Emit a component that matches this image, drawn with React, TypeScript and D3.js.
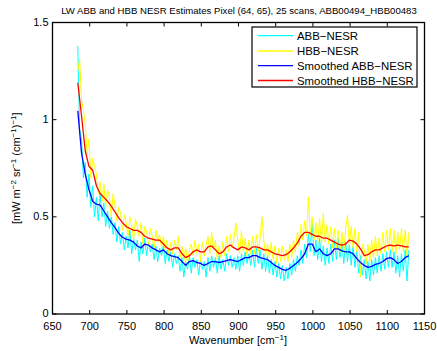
import React from "react";
import * as d3 from "d3";

const RAW_START = 684;
const RAW_STEP = 2.5;
const SMOOTH_START = 684;
const SMOOTH_STEP = 5;

const abbNesr = [
  1.38, 0.95, 0.9, 0.7, 0.78, 0.6, 0.72, 0.55, 0.66, 0.5, 0.6, 0.48, 0.62, 0.5, 0.57, 0.45, 0.53, 0.44, 0.5, 0.41,
  0.47, 0.37, 0.45, 0.36, 0.42, 0.33, 0.4, 0.34, 0.43, 0.31, 0.39, 0.33, 0.38, 0.27, 0.37, 0.31, 0.39, 0.3, 0.37, 0.32,
  0.36, 0.28, 0.35, 0.27, 0.34, 0.3, 0.35, 0.26, 0.33, 0.27, 0.32, 0.24, 0.31, 0.26, 0.3, 0.22, 0.29, 0.19, 0.27, 0.23,
  0.3, 0.21, 0.29, 0.24, 0.28, 0.2, 0.28, 0.23, 0.27, 0.19, 0.29, 0.22, 0.3, 0.24, 0.29, 0.21, 0.3, 0.23, 0.28, 0.22,
  0.31, 0.25, 0.3, 0.24, 0.29, 0.23, 0.3, 0.22, 0.31, 0.25, 0.32, 0.26, 0.31, 0.25, 0.33, 0.24, 0.34, 0.26, 0.33, 0.23,
  0.31, 0.22, 0.3, 0.21, 0.28, 0.2, 0.27, 0.19, 0.26, 0.18, 0.25, 0.17, 0.24, 0.18, 0.26, 0.2, 0.28, 0.22, 0.3, 0.25,
  0.33, 0.26, 0.36, 0.29, 0.41, 0.32, 0.48, 0.3, 0.38, 0.28, 0.39, 0.27, 0.35, 0.25, 0.34, 0.26, 0.36, 0.27, 0.38, 0.28,
  0.39, 0.29, 0.37, 0.26, 0.37, 0.27, 0.36, 0.25, 0.35, 0.24, 0.33, 0.21, 0.3, 0.2, 0.28, 0.18, 0.27, 0.17, 0.28, 0.2,
  0.29, 0.21, 0.3, 0.22, 0.31, 0.23, 0.32, 0.24, 0.33, 0.24, 0.32, 0.21, 0.3, 0.19, 0.31, 0.22, 0.33, 0.17, 0.33,
];

const hbbNesr = [
  1.25, 1.31, 1.1, 1.05, 0.98, 0.82, 0.9, 0.7, 0.8, 0.76, 0.72, 0.62, 0.68, 0.58, 0.67, 0.55, 0.64, 0.6, 0.5, 0.62,
  0.56, 0.48, 0.55, 0.52, 0.43, 0.51, 0.47, 0.4, 0.5, 0.46, 0.38, 0.49, 0.45, 0.4, 0.47, 0.36, 0.45, 0.42, 0.35, 0.44,
  0.4, 0.33, 0.43, 0.37, 0.41, 0.34, 0.4, 0.33, 0.38, 0.3, 0.37, 0.31, 0.38, 0.33, 0.4, 0.29, 0.35, 0.27, 0.34, 0.26,
  0.33, 0.36, 0.3, 0.38, 0.31, 0.36, 0.27, 0.37, 0.3, 0.36, 0.4, 0.31, 0.42, 0.33, 0.38, 0.28, 0.35, 0.29, 0.37, 0.3,
  0.4, 0.32, 0.41, 0.34, 0.39, 0.47, 0.38, 0.31, 0.43, 0.32, 0.39, 0.3, 0.38, 0.31, 0.4, 0.31, 0.41, 0.32, 0.39, 0.5,
  0.38, 0.3, 0.36, 0.29, 0.37, 0.28, 0.35, 0.26, 0.34, 0.27, 0.35, 0.28, 0.33, 0.27, 0.36, 0.29, 0.38, 0.32, 0.42, 0.35,
  0.46, 0.38, 0.48, 0.4, 0.6, 0.4, 0.5, 0.38, 0.47, 0.37, 0.49, 0.36, 0.52, 0.37, 0.46, 0.36, 0.45, 0.34, 0.44, 0.33,
  0.43, 0.32, 0.42, 0.31, 0.44, 0.51, 0.35, 0.45, 0.34, 0.44, 0.32, 0.42, 0.19, 0.36, 0.33, 0.26, 0.36, 0.27, 0.38, 0.29,
  0.4, 0.3, 0.39, 0.31, 0.42, 0.32, 0.43, 0.33, 0.44, 0.32, 0.43, 0.31, 0.42, 0.33, 0.44, 0.32, 0.43, 0.3, 0.42,
];

const smoothedAbb = [
  1.045, 0.83, 0.72, 0.64, 0.58, 0.565, 0.56, 0.53, 0.5, 0.47, 0.445, 0.415, 0.395, 0.385, 0.38, 0.37, 0.35, 0.34,
  0.36, 0.355, 0.34, 0.33, 0.32, 0.33, 0.31, 0.3, 0.295, 0.29, 0.27, 0.25, 0.27, 0.275, 0.265, 0.26, 0.25, 0.26,
  0.27, 0.27, 0.265, 0.27, 0.275, 0.28, 0.275, 0.27, 0.28, 0.29, 0.29, 0.3, 0.3, 0.29, 0.285, 0.28, 0.265, 0.25,
  0.24, 0.23, 0.225, 0.235, 0.25, 0.265, 0.285, 0.31, 0.36, 0.36, 0.32, 0.335, 0.31, 0.3, 0.31, 0.335, 0.335, 0.325,
  0.32, 0.32, 0.31, 0.285, 0.265, 0.25, 0.24, 0.245, 0.255, 0.26, 0.27, 0.285, 0.29, 0.28, 0.26, 0.27, 0.29, 0.3,
];

const smoothedHbb = [
  1.19, 1.02, 0.84, 0.76, 0.74, 0.66, 0.62, 0.6, 0.58, 0.555, 0.525, 0.495, 0.47, 0.45, 0.44, 0.43, 0.43, 0.42,
  0.4, 0.39, 0.385, 0.38, 0.38, 0.36, 0.34, 0.33, 0.34, 0.34, 0.31, 0.29, 0.3, 0.32, 0.33, 0.32, 0.32, 0.345,
  0.35, 0.33, 0.31, 0.32, 0.345, 0.355, 0.34, 0.33, 0.345, 0.34, 0.33, 0.345, 0.345, 0.34, 0.33, 0.33, 0.32, 0.31,
  0.305, 0.3, 0.305, 0.32, 0.34, 0.365, 0.4, 0.42, 0.42, 0.41, 0.4, 0.4, 0.39, 0.39, 0.38, 0.37, 0.36, 0.355,
  0.36, 0.38, 0.375, 0.36, 0.335, 0.3, 0.305, 0.32, 0.33, 0.33, 0.34, 0.35, 0.355, 0.35, 0.355, 0.35, 0.345, 0.345,
];

const xTicks = [650, 700, 750, 800, 850, 900, 950, 1000, 1050, 1100, 1150];
const yTicks = [0, 0.5, 1, 1.5];
const seriesNames = ["ABB\u2212NESR", "HBB\u2212NESR", "Smoothed ABB\u2212NESR", "Smoothed HBB\u2212NESR"];
const seriesColors = ["#00ffff", "#ffff00", "#0000ff", "#ff0000"];

const W = 437;
const H = 351;
const M = { left: 52.5, right: 424.5, top: 22.5, bottom: 314 };
const FONT = "'Liberation Sans', Arial, Helvetica, sans-serif";

export default function App() {
  const x = d3.scaleLinear().domain([650, 1150]).range([M.left, M.right]);
  const y = d3.scaleLinear().domain([0, 1.5]).range([M.bottom, M.top]);

  const toPts = (arr: number[], start: number, step: number) =>
    arr.map((v, i) => [start + i * step, v] as [number, number]);

  const line = d3
    .line<[number, number]>()
    .x((d) => x(d[0]))
    .y((d) => y(d[1]));

  const series = [
    { data: toPts(abbNesr, RAW_START, RAW_STEP), w: 1 },
    { data: toPts(hbbNesr, RAW_START, RAW_STEP), w: 1 },
    { data: toPts(smoothedAbb, SMOOTH_START, SMOOTH_STEP), w: 1.3 },
    { data: toPts(smoothedHbb, SMOOTH_START, SMOOTH_STEP), w: 1.3 },
  ];

  const tl = 4;
  const legX = 252;
  const legY = 27;
  const legW = 165;
  const legH = 60;
  const rowYs = [35.7, 51, 65.7, 80.5];

  return (
    <svg
      width={W}
      height={H}
      style={{ position: "absolute", left: 0, top: 0, background: "#fff" }}
      fontFamily={FONT}
    >
      <rect x={0} y={0} width={W} height={H} fill="#fff" />
      <text x={239} y={14} fontSize={9.6} textAnchor="middle" fill="#000">
        LW ABB and HBB NESR Estimates Pixel (64, 65), 25 scans, ABB00494_HBB00483
      </text>
      <defs>
        <clipPath id="plotclip">
          <rect x={M.left} y={M.top} width={M.right - M.left} height={M.bottom - M.top} />
        </clipPath>
      </defs>
      <g clipPath="url(#plotclip)">
        {series.map((s, i) => (
          <path
            key={i}
            d={line(s.data) || ""}
            fill="none"
            stroke={seriesColors[i]}
            strokeWidth={s.w}
            strokeLinejoin="round"
          />
        ))}
      </g>
      {xTicks.map((t) => (
        <g key={"x" + t}>
          <line x1={x(t)} x2={x(t)} y1={M.bottom} y2={M.bottom - tl} stroke="#000" />
          <line x1={x(t)} x2={x(t)} y1={M.top} y2={M.top + tl} stroke="#000" />
          <text x={x(t)} y={330} fontSize={11} textAnchor="middle" fill="#000">
            {t}
          </text>
        </g>
      ))}
      {yTicks.map((t) => (
        <g key={"y" + t}>
          <line x1={M.left} x2={M.left + tl} y1={y(t)} y2={y(t)} stroke="#000" />
          <line x1={M.right} x2={M.right - tl} y1={y(t)} y2={y(t)} stroke="#000" />
          <text x={M.left - 4} y={y(t) + 3} fontSize={11} textAnchor="end" fill="#000">
            {t}
          </text>
        </g>
      ))}
      <rect
        x={M.left}
        y={M.top}
        width={M.right - M.left}
        height={M.bottom - M.top}
        fill="none"
        stroke="#000"
        strokeWidth={1.3}
      />
      <text x={238} y={344} fontSize={11} textAnchor="middle" fill="#000">
        Wavenumber [cm
        <tspan dy={-4} fontSize={8}>
          {"\u22121"}
        </tspan>
        <tspan dy={4}>]</tspan>
      </text>
      <text
        transform={`translate(20, ${(M.top + M.bottom) / 2}) rotate(-90)`}
        fontSize={11}
        textAnchor="middle"
        fill="#000"
      >
        [mW m
        <tspan dy={-4} fontSize={8}>
          {"\u22122"}
        </tspan>
        <tspan dy={4}> sr</tspan>
        <tspan dy={-4} fontSize={8}>
          {"\u22121"}
        </tspan>
        <tspan dy={4}> (cm</tspan>
        <tspan dy={-4} fontSize={8}>
          {"\u22121"}
        </tspan>
        <tspan dy={4}>)</tspan>
        <tspan dy={-4} fontSize={8}>
          {"\u22121"}
        </tspan>
        <tspan dy={4}>]</tspan>
      </text>
      <rect x={legX} y={legY} width={legW} height={legH} fill="#fff" stroke="#000" strokeWidth={1.2} />
      {seriesNames.map((n, i) => (
        <g key={n}>
          <line x1={258} x2={293} y1={rowYs[i]} y2={rowYs[i]} stroke={seriesColors[i]} strokeWidth={1.3} />
          <text x={297} y={rowYs[i] + 4} fontSize={11.4} fill="#000">
            {n}
          </text>
        </g>
      ))}
    </svg>
  );
}
